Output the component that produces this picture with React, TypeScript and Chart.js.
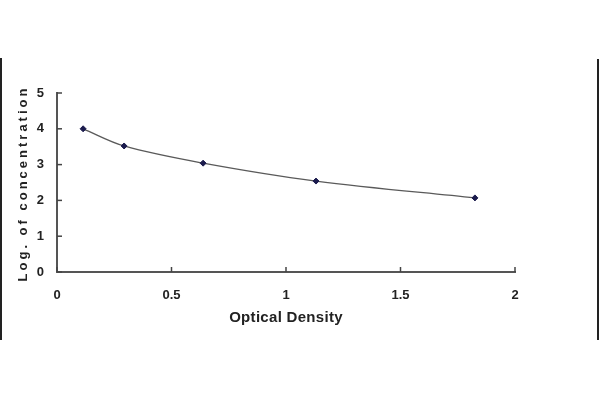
import React, { useEffect, useRef } from "react";
import { Chart, registerables } from "chart.js";

Chart.register(...registerables);

const opticalDensity = [0.114, 0.293, 0.638, 1.131, 1.825];
const logConcentration = [4.0, 3.52, 3.04, 2.54, 2.07];
const xTicks = [0, 0.5, 1, 1.5, 2];
const xTickLabels = ["0", "0.5", "1", "1.5", "2"];
const yTicks = [0, 1, 2, 3, 4, 5];
const xTitle = "Optical Density";
const yTitle = "Log. of concentration";

const FONT = '"Liberation Sans", Arial, sans-serif';

const decorPlugin = {
  id: "decor",
  afterDraw(chart: any) {
    const ctx = chart.ctx as CanvasRenderingContext2D;
    const xs = chart.scales.x;
    const ys = chart.scales.y;
    const area = chart.chartArea;
    ctx.save();
    ctx.strokeStyle = "#444";
    ctx.lineWidth = 1.5;
    xTicks.forEach((v) => {
      const px = xs.getPixelForValue(v);
      ctx.beginPath();
      ctx.moveTo(px, area.bottom);
      ctx.lineTo(px, area.bottom - 5);
      ctx.stroke();
    });
    yTicks.forEach((v) => {
      const py = ys.getPixelForValue(v);
      ctx.beginPath();
      ctx.moveTo(area.left, py);
      ctx.lineTo(area.left + 5, py);
      ctx.stroke();
    });
    ctx.fillStyle = "#222";
    ctx.textAlign = "center";
    ctx.textBaseline = "middle";
    // x title
    ctx.font = `bold 15px ${FONT}`;
    (ctx as any).letterSpacing = "0.3px";
    ctx.fillText(xTitle, (area.left + area.right) / 2, 318);
    // y title
    ctx.translate(23, (area.top + area.bottom) / 2 + 1);
    ctx.rotate(-Math.PI / 2);
    ctx.font = `bold 13px ${FONT}`;
    (ctx as any).letterSpacing = "3px";
    ctx.fillText(yTitle, 0, 0);
    ctx.restore();
  },
};

export default function App() {
  const ref = useRef<HTMLCanvasElement | null>(null);
  useEffect(() => {
    if (!ref.current) return;
    const chart = new Chart(ref.current, {
      type: "line",
      data: {
        datasets: [
          {
            data: opticalDensity.map((x, i) => ({ x, y: logConcentration[i] })),
            borderColor: "#5a5a5a",
            borderWidth: 1.3,
            tension: 0.35,
            pointStyle: "rectRot",
            pointRadius: 3,
            pointBackgroundColor: "#1b1b4d",
            pointBorderColor: "#1b1b4d",
            pointBorderWidth: 1,
            fill: false,
          },
        ],
      },
      options: {
        animation: false,
        responsive: false,
        devicePixelRatio: 1,
        layout: { padding: { left: 30, right: 85, top: 93, bottom: 88 } },
        plugins: { legend: { display: false }, tooltip: { enabled: false } },
        scales: {
          x: {
            type: "linear",
            min: 0,
            max: 2,
            afterFit: (s: any) => {
              s.height = 40;
            },
            afterBuildTicks: (s: any) => {
              s.ticks = xTicks.map((v) => ({ value: v }));
            },
            ticks: {
              padding: 16,
              color: "#222",
              font: { family: FONT, size: 13, weight: "bold" },
              maxRotation: 0,
              callback: (_v: any, i: number) => xTickLabels[i],
            },
            grid: { display: false, drawTicks: false },
            border: { display: true, color: "#555", width: 2 },
            title: { display: false },
          },
          y: {
            type: "linear",
            min: 0,
            max: 5,
            afterFit: (s: any) => {
              s.width = 27;
            },
            afterBuildTicks: (s: any) => {
              s.ticks = yTicks.map((v) => ({ value: v }));
            },
            ticks: {
              padding: 13,
              color: "#222",
              font: { family: FONT, size: 13, weight: "bold" },
            },
            grid: { display: false, drawTicks: false },
            border: { display: true, color: "#555", width: 2 },
            title: { display: false },
          },
        },
      },
      plugins: [decorPlugin],
    } as any);
    return () => chart.destroy();
  }, []);

  return (
    <div style={{ position: "fixed", left: 0, top: 0, width: 600, height: 400, background: "#fff" }}>
      <canvas ref={ref} width={600} height={400} style={{ width: 600, height: 400, display: "block" }} />
      <div style={{ position: "absolute", left: 0, top: 58, width: 2, height: 282, background: "#222" }} />
      <div style={{ position: "absolute", left: 597, top: 59, width: 2, height: 281, background: "#222" }} />
    </div>
  );
}
